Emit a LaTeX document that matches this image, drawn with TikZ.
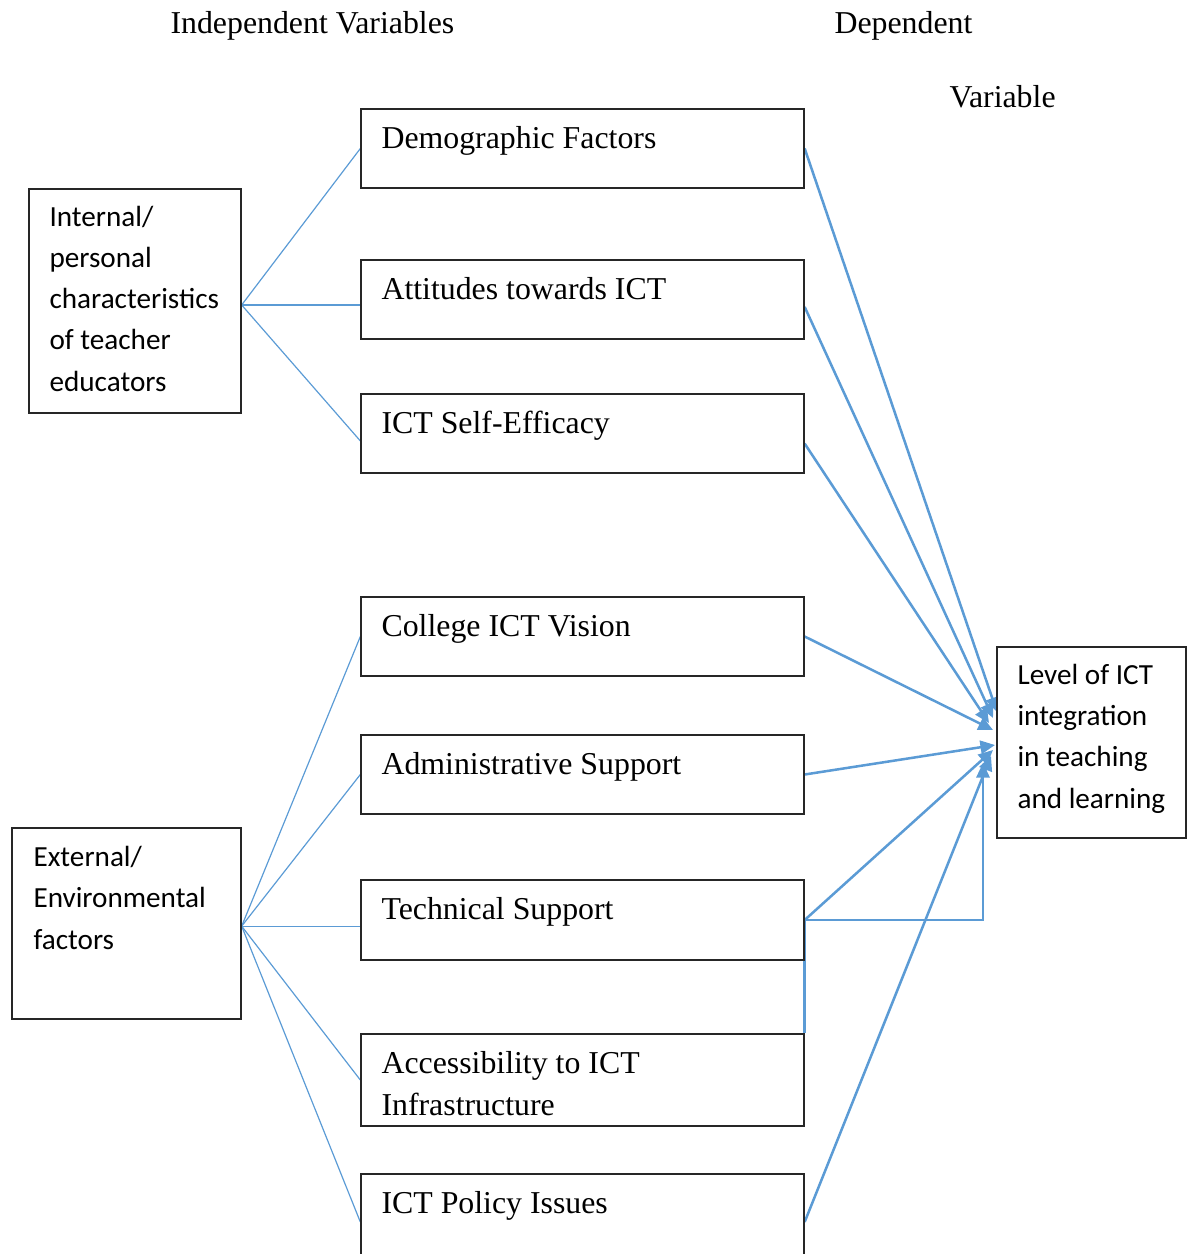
\documentclass[tikz,border=0pt]{standalone}
\usepackage{fontspec}
\setmainfont{Liberation Serif}
\newfontfamily\calibri{Carlito}
\usetikzlibrary{arrows.meta,fit,backgrounds}
\definecolor{linkblue}{HTML}{5B9BD5}
\begin{document}
\begin{tikzpicture}[x=0.377pt,y=-0.377pt,
  box/.style={draw=black!85, line width=0.5pt, fill=white, inner sep=0pt},
  serif/.style={font=\fontsize{12}{15.8}\selectfont, anchor=base west, inner sep=0pt, align=left},
  sans/.style={font=\calibri\fontsize{11}{15.5}\selectfont, anchor=base west, inner sep=0pt, align=left},
  thin/.style={draw=linkblue, line width=0.45pt},
  flow/.style={draw=linkblue, line width=0.95pt, -{Triangle[length=5.5pt,width=5pt]}}]
\useasboundingbox (0,0) rectangle (1191,1254);

% headings
\node[serif] (hind) at (170,34) {Independent Variables};
\node[serif] (hdep) at (834,34) {Dependent};
\node[serif] (hvar) at (949,107) {Variable};

% group boxes on the left (multi-line texts are placed by their last baseline)
\node[box, fit={(29,189) (241,413)}] (int) {};
\node[sans] (inttext) at (49,391) {Internal/\\personal\\characteristics\\of teacher\\educators};
\node[box, fit={(12,828) (241,1019)}] (ext) {};
\node[sans] (exttext) at (33,949) {External/\\Environmental\\factors};

% factor boxes
\node[box, fit={(361,109) (804,188)}] (demo) {};
\node[serif] (demotext) at (381,148) {Demographic Factors};
\node[box, fit={(361,260) (804,339)}] (att) {};
\node[serif] (atttext) at (381,299) {Attitudes towards ICT};
\node[box, fit={(361,394) (804,473)}] (eff) {};
\node[serif] (efftext) at (381,433) {ICT Self-Efficacy};
\node[box, fit={(361,597) (804,676)}] (vis) {};
\node[serif] (vistext) at (381,636) {College ICT Vision};
\node[box, fit={(361,735) (804,814)}] (adm) {};
\node[serif] (admtext) at (381,774) {Administrative Support};
\node[box, fit={(361,880) (804,960)}] (tech) {};
\node[serif] (techtext) at (381,919) {Technical Support};
\node[box, fit={(361,1034) (804,1126)}] (acc) {};
\node[serif] (acctext) at (381,1115) {Accessibility to ICT\\Infrastructure};
\node[box, fit={(361,1174) (804,1270)}] (pol) {};
\node[serif] (poltext) at (381,1213) {ICT Policy Issues};

% outcome box
\node[box, fit={(997,647) (1186,838)}] (dep) {};
\node[sans] (deptext) at (1017,808) {Level of ICT\\integration\\in teaching\\and learning};

% arrow tip points on the outcome box
\coordinate (t1) at (997,712);
\coordinate (t2) at (993,718);
\coordinate (t3) at (989,723);
\coordinate (t4) at (993,730);
\coordinate (t5) at (995,745);
\coordinate (t6) at (993,750);
\coordinate (t7) at (991,756);
\coordinate (t8) at (983,763);

\begin{pgfonlayer}{background}
  % internal factors
  \coordinate (ip) at ([yshift=-1.5pt]int.east);
  \draw[thin] (ip) -- (demo.west);
  \draw[thin] (ip) -- (att.west |- ip);
  \draw[thin] (ip) -- ([yshift=-2.8pt]eff.west);
  % external factors
  \coordinate (ep) at ([yshift=-1pt]ext.east);
  \draw[thin] (ep) -- (vis.west);
  \draw[thin] (ep) -- (adm.west);
  \draw[thin] (ep) -- (tech.west |- ep);
  \draw[thin] (ep) -- (acc.west);
  \draw[thin] (ep) -- (pol.west);
  % effects on the outcome
  \draw[flow] (demo.east) -- (t1);
  \draw[flow] ([yshift=-2.8pt]att.east) -- (t2);
  \draw[flow] ([yshift=-3.8pt]eff.east) -- (t3);
  \draw[flow] (vis.east) -- (t4);
  \draw[flow] (adm.east) -- (t5);
  \draw[flow] (tech.east) -- (t6);
  \draw[flow] (pol.east) -- (t7);
  \draw[flow] (acc.north east) -- (tech.east) -| (t8);
\end{pgfonlayer}
\end{tikzpicture}
\end{document}
